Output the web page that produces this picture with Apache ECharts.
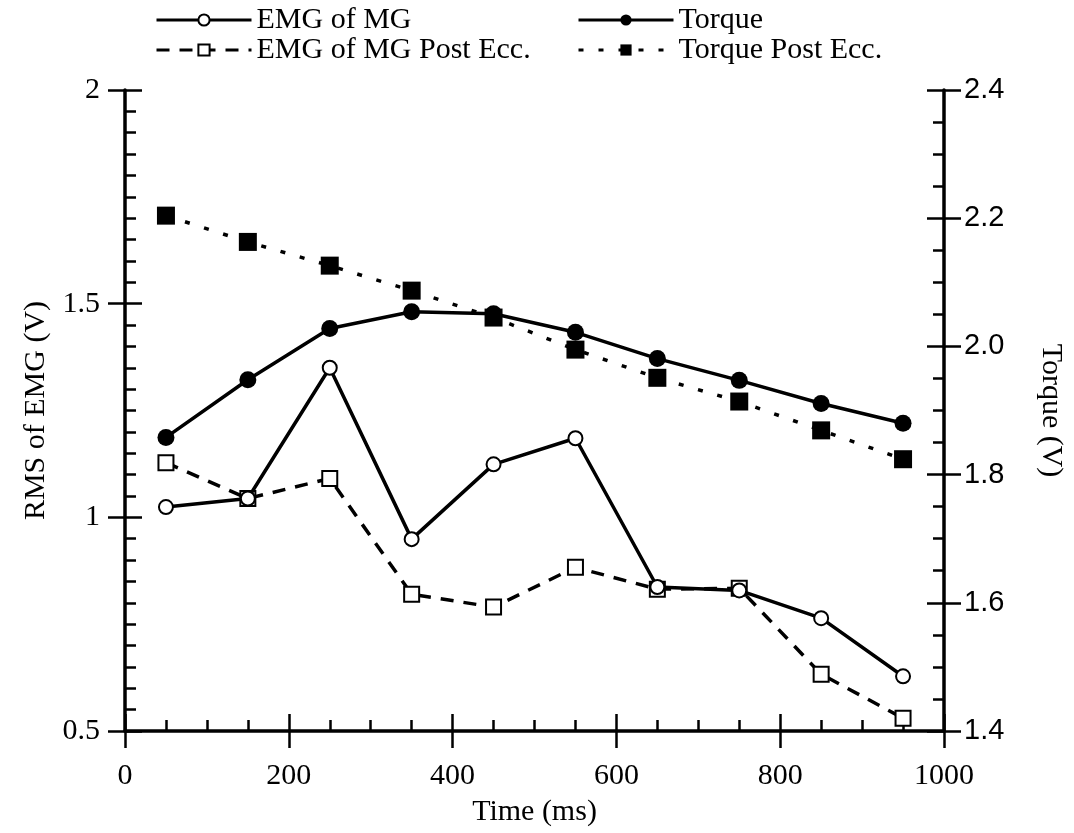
<!DOCTYPE html>
<html>
<head>
<meta charset="utf-8">
<script src="https://cdn.jsdelivr.net/npm/echarts@6/dist/echarts.min.js"></script>
<style>
  html, body { margin: 0; padding: 0; background: #fff; }
  #chart { width: 1074px; height: 833px; }
</style>
</head>
<body>
<div id="chart"></div>
<script>
const timeMs = [50, 150, 250, 350, 450, 550, 650, 750, 850, 950];
const emgMG = [1.024, 1.044, 1.35, 0.949, 1.124, 1.185, 0.837, 0.829, 0.764, 0.628];
const emgMGPost = [1.128, 1.044, 1.091, 0.82, 0.79, 0.883, 0.832, 0.834, 0.633, 0.53];
const torque = [1.858, 1.948, 2.028, 2.054, 2.051, 2.022, 1.981, 1.947, 1.911, 1.88];
const torquePost = [2.204, 2.163, 2.126, 2.087, 2.045, 1.995, 1.951, 1.914, 1.869, 1.824];

const SERIF = '"Liberation Serif", "Times New Roman", serif';
const SANS = '"Liberation Sans", Arial, sans-serif';

const pairs = vals => timeMs.map((t, i) => [t, vals[i]]);

const chart = echarts.init(document.getElementById('chart'));

const lineW = 3.5;
const tickStyle = { color: '#000', width: 2.5 };
const txt = { fontFamily: SERIF, fontSize: 30, color: '#000' };
const legendText = { fontFamily: SERIF, fontSize: 30, color: '#000', lineHeight: 30 };

chart.setOption({
  animation: false,
  backgroundColor: '#fff',
  grid: { left: 125, right: 126, top: 90, bottom: 102 },
  legend: [
    {
      data: ['EMG of MG', 'EMG of MG Post Ecc.'],
      orient: 'vertical', left: 150, top: 0,
      itemWidth: 95, itemHeight: 14, itemGap: 0,
      lineStyle: { width: 3 },
      textStyle: legendText
    },
    {
      data: ['Torque', 'Torque Post Ecc.'],
      orient: 'vertical', left: 572, top: 0,
      itemWidth: 95, itemHeight: 14, itemGap: 0,
      lineStyle: { width: 3 },
      textStyle: legendText
    }
  ],
  xAxis: [
    {
      type: 'value', min: 0, max: 1000, interval: 200,
      name: 'Time (ms)', nameLocation: 'middle', nameGap: 66,
      nameTextStyle: txt,
      axisLine: { show: true, onZero: false, lineStyle: { color: '#000', width: lineW } },
      axisTick: { show: true, inside: false, length: 17, lineStyle: tickStyle },
      axisLabel: { margin: 30, fontFamily: SERIF, fontSize: 30, color: '#000', formatter: v => String(v) },
      splitLine: { show: false }
    },
    {
      type: 'value', min: 0, max: 1000, interval: 200, position: 'bottom',
      axisLine: { show: false, onZero: false },
      axisTick: { show: true, inside: true, length: 17, lineStyle: tickStyle },
      minorTick: { show: true, splitNumber: 4, length: 11, lineStyle: tickStyle },
      axisLabel: { show: false },
      splitLine: { show: false }
    }
  ],
  yAxis: [
    {
      type: 'value', min: 0.5, max: 2, interval: 0.5, position: 'left',
      name: 'RMS of EMG (V)', nameLocation: 'middle', nameGap: 70, nameRotate: 90,
      nameTextStyle: txt,
      axisLine: { show: true, onZero: false, lineStyle: { color: '#000', width: lineW } },
      axisTick: { show: true, inside: false, length: 17, lineStyle: tickStyle },
      axisLabel: { margin: 25, fontFamily: SERIF, fontSize: 30, color: '#000' },
      splitLine: { show: false }
    },
    {
      type: 'value', min: 1.4, max: 2.4, interval: 0.2, position: 'right',
      name: 'Torque (V)', nameLocation: 'middle', nameGap: 92, nameRotate: -90,
      nameTextStyle: txt,
      axisLine: { show: true, onZero: false, lineStyle: { color: '#000', width: lineW } },
      axisTick: { show: true, inside: false, length: 17, lineStyle: tickStyle },
      axisLabel: { margin: 20, fontFamily: SANS, fontSize: 29, color: '#000', formatter: v => v.toFixed(1) },
      splitLine: { show: false }
    },
    {
      type: 'value', min: 0.5, max: 2, interval: 0.5, position: 'left',
      axisLine: { show: false, onZero: false },
      axisTick: { show: true, inside: true, length: 17, lineStyle: tickStyle },
      minorTick: { show: true, splitNumber: 10, length: 11, lineStyle: tickStyle },
      axisLabel: { show: false },
      splitLine: { show: false }
    },
    {
      type: 'value', min: 1.4, max: 2.4, interval: 0.2, position: 'right',
      axisLine: { show: false, onZero: false },
      axisTick: { show: true, inside: true, length: 17, lineStyle: tickStyle },
      minorTick: { show: true, splitNumber: 4, length: 11, lineStyle: tickStyle },
      axisLabel: { show: false },
      splitLine: { show: false }
    }
  ],
  series: [
    {
      name: 'EMG of MG', type: 'line', yAxisIndex: 0,
      data: pairs(emgMG),
      symbol: 'emptyCircle', symbolSize: 14,
      lineStyle: { color: '#000', width: lineW, type: 'solid' },
      itemStyle: { color: '#000', borderColor: '#000', borderWidth: 2.5 },
      z: 4
    },
    {
      name: 'Torque', type: 'line', yAxisIndex: 1,
      data: pairs(torque),
      symbol: 'circle', symbolSize: 17,
      lineStyle: { color: '#000', width: lineW, type: 'solid' },
      itemStyle: { color: '#000' },
      z: 3
    },
    {
      name: 'EMG of MG Post Ecc.', type: 'line', yAxisIndex: 0,
      data: pairs(emgMGPost),
      symbol: 'emptyRect', symbolSize: 15,
      lineStyle: { color: '#000', width: lineW, type: [13, 10] },
      itemStyle: { color: '#000', borderColor: '#000', borderWidth: 2.5 },
      z: 3
    },
    {
      name: 'Torque Post Ecc.', type: 'line', yAxisIndex: 1,
      data: pairs(torquePost),
      symbol: 'rect', symbolSize: 18,
      lineStyle: { color: '#000', width: lineW, type: [5, 15] },
      itemStyle: { color: '#000' },
      z: 4
    }
  ]
});
</script>
</body>
</html>
